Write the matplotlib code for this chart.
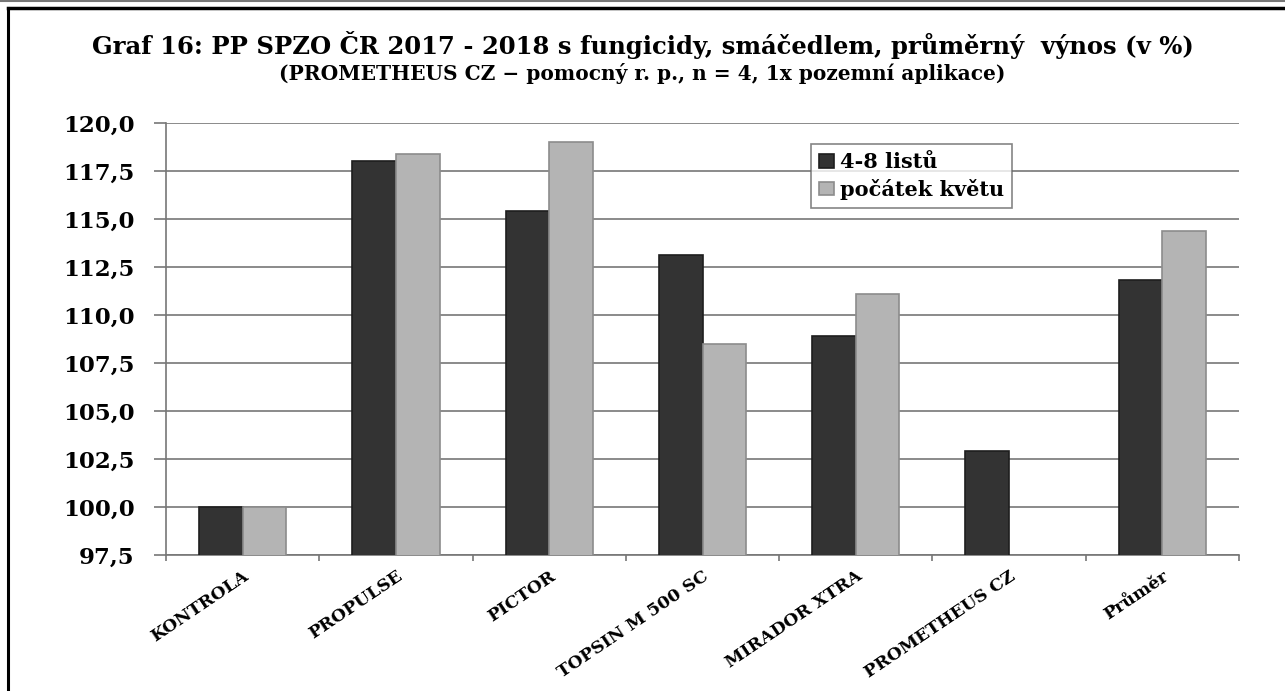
import numpy as np
import matplotlib.pyplot as plt
from matplotlib.lines import Line2D

# ================================
# DATA
# ================================
kategorie = ["KONTROLA", "PROPULSE", "PICTOR", "TOPSIN M 500 SC",
             "MIRADOR XTRA", "PROMETHEUS CZ", "Průměr"]
listy_4_8 = [100.0, 118.0, 115.4, 113.1, 108.9, 102.9, 111.8]
pocatek_kvetu = [100.0, 118.4, 119.0, 108.5, 111.1, np.nan, 114.4]

y_ticks = [97.5, 100.0, 102.5, 105.0, 107.5, 110.0, 112.5, 115.0, 117.5, 120.0]

nazev = "Graf 16: PP SPZO ČR 2017 - 2018 s fungicidy, smáčedlem, průměrný  výnos (v %)"
podnazev = "(PROMETHEUS CZ − pomocný r. p., n = 4, 1x pozemní aplikace)"

# ================================
# PLOT
# ================================
plt.rcParams["font.family"] = ["DejaVu Serif"]
plt.rcParams["font.weight"] = "bold"

fig = plt.figure(figsize=(12.85, 6.91), dpi=100)
ax = fig.add_axes([0.1292, 0.1968, 0.835, 0.6252])

x = np.arange(len(kategorie))
w = 0.285
ax.bar(x - w / 2, listy_4_8, w, bottom=0, color="#333333",
       edgecolor="#1e1e1e", linewidth=1.2, label="4-8 listů", zorder=3)
ax.bar(x + w / 2, pocatek_kvetu, w, bottom=0, color="#b4b4b4",
       edgecolor="#8c8c8c", linewidth=1.2, label="počátek květu", zorder=3)

ax.set_xlim(-0.5, len(kategorie) - 0.5)
ax.set_ylim(97.5, 120.0)
ax.set_yticks(y_ticks)
ax.set_yticklabels([f"{v:.1f}".replace(".", ",") for v in y_ticks], fontsize=16.5)
ax.grid(axis="y", color="#8a8a8a", linewidth=1.4, zorder=0)

ax.set_xticks(x)
ax.set_xticklabels(kategorie, rotation=34, ha="right", rotation_mode="anchor",
                   fontsize=12.5)
ax.set_xticks(np.arange(len(kategorie) + 1) - 0.5, minor=True)
ax.tick_params(axis="x", which="major", length=0, pad=9)
ax.tick_params(axis="x", which="minor", length=4.5, color="#777777", width=1.2)
ax.tick_params(axis="y", length=8.6, color="#777777", width=1.2, pad=14)

for s in ["top", "right"]:
    ax.spines[s].set_visible(False)
for s in ["left", "bottom"]:
    ax.spines[s].set_color("#777777")
    ax.spines[s].set_linewidth(1.2)

leg = ax.legend(loc="upper left", bbox_to_anchor=(0.631, 0.7916),
                bbox_transform=fig.transFigure, fontsize=15, frameon=True,
                fancybox=False, edgecolor="#666666", borderpad=0.4,
                handlelength=0.7, handleheight=0.6, handletextpad=0.3,
                labelspacing=0.3, borderaxespad=0)
leg.get_frame().set_linewidth(1.2)

fig.text(0.5, 0.935, nazev, ha="center", va="center", fontsize=17.5)
fig.text(0.5, 0.893, podnazev, ha="center", va="center", fontsize=14.5)

# ramecek
fig.add_artist(Line2D([0, 1], [0.998, 0.998], color="#777777", lw=1.5,
                      transform=fig.transFigure))
fig.add_artist(Line2D([0.0062, 1], [0.988, 0.988], color="black", lw=2.5,
                      transform=fig.transFigure))
fig.add_artist(Line2D([0.0062, 0.0062], [0, 0.988], color="black", lw=2.2,
                      transform=fig.transFigure))

fig.savefig("out.png", dpi=100)
